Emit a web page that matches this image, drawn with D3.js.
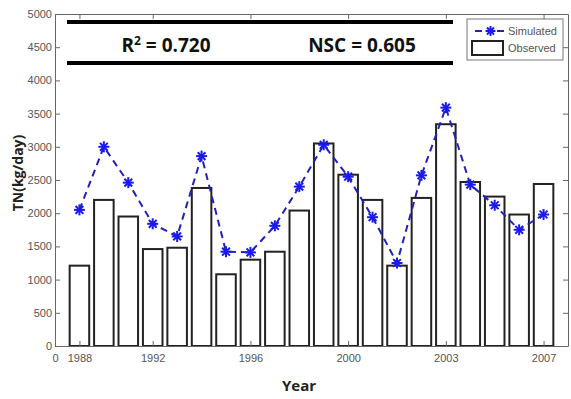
<!DOCTYPE html>
<html>
<head>
<meta charset="utf-8">
<script src="https://cdn.jsdelivr.net/npm/d3@7"></script>
<style>
  body { margin: 0; background: #fff; }
  .tick text { font-family: "Liberation Sans Narrow", "Liberation Sans", Arial, sans-serif; font-size: 11px; fill: #555; }
</style>
</head>
<body>
<div id="chart"></div>
<script>
// Data
const positions = [1, 2, 3, 4, 5, 6, 7, 8, 9, 10, 11, 12, 13, 14, 15, 16, 17, 18, 19, 20];
const observed = [1210, 2200, 1950, 1460, 1480, 2380, 1080, 1300, 1420, 2040,
                  3050, 2580, 2200, 1210, 2230, 3340, 2470, 2250, 1980, 2440];
const simulated = [2050, 3000, 2460, 1840, 1650, 2860, 1420, 1410, 1810, 2400,
                   3030, 2550, 1940, 1250, 2570, 3590, 2430, 2120, 1750, 1980];
const xTickPos = [0, 1, 4, 8, 12, 16, 20];
const xTickLabels = ["0", "1988", "1992", "1996", "2000", "2003", "2007"];
const yTicks = [0, 500, 1000, 1500, 2000, 2500, 3000, 3500, 4000, 4500, 5000];

const width = 571, height = 399;
const plotLeft = 55, plotRight = 568, plotTop = 14, plotBottom = 346;

const svg = d3.select("#chart").append("svg")
    .attr("width", width)
    .attr("height", height);

const x = d3.scaleLinear().domain([0, 21]).range([plotLeft, plotRight]);
const y = d3.scaleLinear().domain([0, 5000]).range([plotBottom, plotTop]);
const barW = (x(1) - x(0)) * 0.8;

// Bars (observed)
svg.append("g")
    .selectAll("rect")
    .data(positions)
    .join("rect")
    .attr("x", (d) => x(d) - barW / 2)
    .attr("y", (d, i) => y(observed[i]))
    .attr("width", barW)
    .attr("height", (d, i) => y(0) - y(observed[i]))
    .attr("fill", "#fff")
    .attr("stroke", "#222")
    .attr("stroke-width", 2);

// Axes with inward ticks, like a boxed plot
const fontFam = '"Liberation Sans Narrow", "Liberation Sans", Arial, sans-serif';

svg.append("g")
    .attr("transform", `translate(0,${plotBottom})`)
    .call(d3.axisBottom(x).tickValues(xTickPos).tickSize(-5)
        .tickFormat((d, i) => xTickLabels[i]).tickSizeOuter(0))
    .call((g) => g.selectAll("text").attr("dy", "1.15em"))
    .call((g) => g.select(".domain").attr("stroke", "#666"));

svg.append("g")
    .attr("transform", `translate(0,${plotTop})`)
    .call(d3.axisTop(x).tickValues(xTickPos.slice(1)).tickSize(-5)
        .tickFormat("").tickSizeOuter(0))
    .call((g) => g.select(".domain").attr("stroke", "#666"));

svg.append("g")
    .attr("transform", `translate(${plotLeft},0)`)
    .call(d3.axisLeft(y).tickValues(yTicks).tickSize(-5).tickFormat(d3.format("d")).tickSizeOuter(0))
    .call((g) => g.selectAll("text").attr("x", -3))
    .call((g) => g.select(".domain").attr("stroke", "#666"));

svg.append("g")
    .attr("transform", `translate(${plotRight},0)`)
    .call(d3.axisRight(y).tickValues(yTicks).tickSize(-5).tickFormat("").tickSizeOuter(0))
    .call((g) => g.select(".domain").attr("stroke", "#666"));

svg.selectAll(".tick line").attr("stroke", "#666");

// Simulated line
const line = d3.line()
    .x((d) => x(d))
    .y((d, i) => y(simulated[i]));

svg.append("path")
    .datum(positions)
    .attr("d", line)
    .attr("fill", "none")
    .attr("stroke", "#2222bb")
    .attr("stroke-width", 2)
    .attr("stroke-dasharray", "7,5");

// Asterisk markers
function asterisk(g, cx, cy, r) {
    for (let k = 0; k < 4; k++) {
        const a = k * Math.PI / 4;
        g.append("line")
            .attr("x1", cx - r * Math.cos(a)).attr("y1", cy - r * Math.sin(a))
            .attr("x2", cx + r * Math.cos(a)).attr("y2", cy + r * Math.sin(a))
            .attr("stroke", "#1a1aee")
            .attr("stroke-width", 2);
    }
}
const marks = svg.append("g");
positions.forEach((d, i) => asterisk(marks, x(d), y(simulated[i]), 5.5));

// Statistics box
const boxL = 67, boxR = 453;
[22, 63].forEach((yy) => {
    svg.append("line")
        .attr("x1", boxL).attr("x2", boxR)
        .attr("y1", yy).attr("y2", yy)
        .attr("stroke", "#000")
        .attr("stroke-width", 4);
});

const r2 = svg.append("text")
    .attr("x", 166).attr("y", 52)
    .attr("text-anchor", "middle")
    .style("font-family", '"Open Sans", "Noto Sans", sans-serif')
    .style("font-weight", "bold")
    .style("font-size", "19px")
    .style("fill", "#111");
r2.append("tspan").text("R");
r2.append("tspan").text("2").attr("dy", -7).style("font-size", "12px");
r2.append("tspan").text(" = 0.720").attr("dy", 7);

svg.append("text")
    .attr("x", 362).attr("y", 52)
    .attr("text-anchor", "middle")
    .style("font-family", '"Open Sans", "Noto Sans", sans-serif')
    .style("font-weight", "bold")
    .style("font-size", "19px")
    .style("fill", "#111")
    .text("NSC = 0.605");

// Legend
const lg = svg.append("g");
lg.append("rect")
    .attr("x", 467).attr("y", 19)
    .attr("width", 96).attr("height", 41)
    .attr("fill", "#fff")
    .attr("stroke", "#777")
    .attr("stroke-width", 1);
lg.append("line")
    .attr("x1", 475).attr("x2", 506)
    .attr("y1", 31).attr("y2", 31)
    .attr("stroke", "#2222bb")
    .attr("stroke-width", 2)
    .attr("stroke-dasharray", "7,4");
asterisk(lg, 490.5, 31, 5);
lg.append("rect")
    .attr("x", 472).attr("y", 41)
    .attr("width", 31).attr("height", 14)
    .attr("fill", "#fff")
    .attr("stroke", "#222")
    .attr("stroke-width", 2);
lg.selectAll("text.lt")
    .data(["Simulated", "Observed"])
    .join("text")
    .attr("x", 508)
    .attr("y", (d, i) => 35 + i * 17)
    .style("font-family", fontFam)
    .style("font-size", "11px")
    .style("fill", "#555")
    .text((d) => d);

// Axis titles
svg.append("text")
    .attr("transform", `translate(23,${173}) rotate(-90)`)
    .attr("text-anchor", "middle")
    .style("font-family", '"Open Sans", "Noto Sans", sans-serif')
    .style("font-weight", "bold")
    .style("font-size", "14px")
    .style("fill", "#222")
    .text("TN(kg/day)");

svg.append("text")
    .attr("x", 299).attr("y", 391)
    .attr("text-anchor", "middle")
    .style("font-family", '"Open Sans", "Noto Sans", sans-serif')
    .style("font-weight", "bold")
    .style("font-size", "15px")
    .style("fill", "#222")
    .text("Year");
</script>
</body>
</html>
